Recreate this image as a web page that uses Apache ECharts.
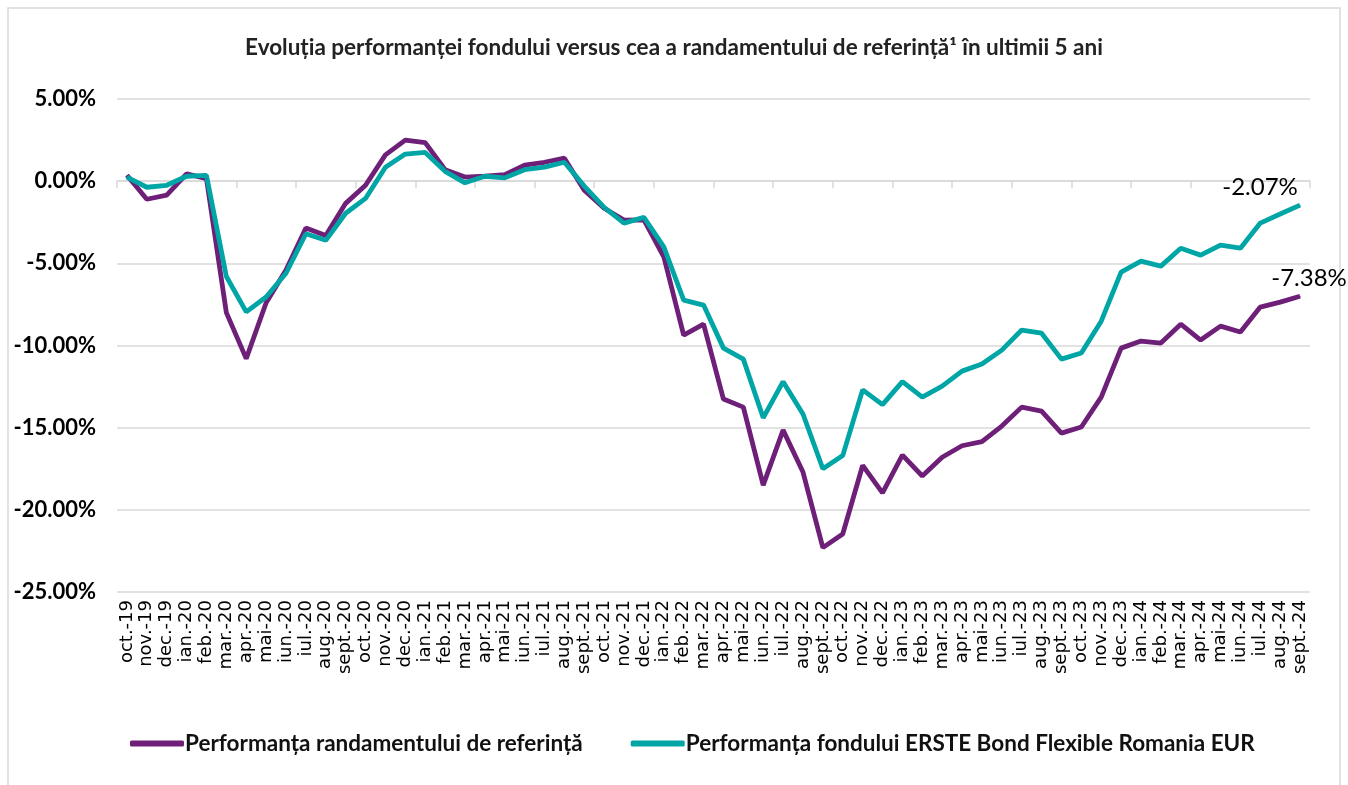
<!DOCTYPE html>
<html><head><meta charset="utf-8">
<script src="https://cdn.jsdelivr.net/npm/echarts@6/dist/echarts.min.js"></script>
<style>html,body{margin:0;padding:0;background:#fff}#c{width:1348px;height:785px}</style>
</head><body><div id="c"></div>
<script>
const categories = ["oct.-19","nov.-19","dec.-19","ian.-20","feb.-20","mar.-20","apr.-20","mai-20","iun.-20","iul.-20","aug.-20","sept.-20","oct.-20","nov.-20","dec.-20","ian.-21","feb.-21","mar.-21","apr.-21","mai-21","iun.-21","iul.-21","aug.-21","sept.-21","oct.-21","nov.-21","dec.-21","ian.-22","feb.-22","mar.-22","apr.-22","mai-22","iun.-22","iul.-22","aug.-22","sept.-22","oct.-22","nov.-22","dec.-22","ian.-23","feb.-23","mar.-23","apr.-23","mai-23","iun.-23","iul.-23","aug.-23","sept.-23","oct.-23","nov.-23","dec.-23","ian.-24","feb.-24","mar.-24","apr.-24","mai-24","iun.-24","iul.-24","aug.-24","sept.-24"];
const referenceValues = [0.36,-1.1,-0.85,0.45,0.15,-8.0,-10.8,-7.4,-5.4,-2.85,-3.3,-1.35,-0.25,1.6,2.5,2.35,0.7,0.25,0.3,0.4,0.97,1.15,1.4,-0.55,-1.65,-2.37,-2.35,-4.6,-9.37,-8.7,-13.26,-13.75,-18.5,-15.15,-17.7,-22.3,-21.47,-17.3,-18.97,-16.67,-17.94,-16.8,-16.1,-15.85,-14.9,-13.75,-13.99,-15.33,-14.96,-13.14,-10.16,-9.73,-9.85,-8.7,-9.67,-8.82,-9.18,-7.66,-7.36,-7.0];
const fundValues = [0.25,-0.37,-0.25,0.3,0.35,-5.8,-7.95,-7.05,-5.6,-3.2,-3.6,-1.95,-1.05,0.85,1.65,1.75,0.6,-0.1,0.3,0.2,0.7,0.85,1.15,-0.3,-1.6,-2.55,-2.2,-4.0,-7.24,-7.54,-10.16,-10.83,-14.4,-12.2,-14.17,-17.5,-16.7,-12.7,-13.6,-12.2,-13.14,-12.47,-11.56,-11.13,-10.28,-9.06,-9.25,-10.83,-10.46,-8.52,-5.53,-4.87,-5.17,-4.08,-4.5,-3.89,-4.08,-2.55,-2.0,-1.46];
const seriesNames = ["Performanța randamentului de referință","Performanța fondului ERSTE Bond Flexible Romania EUR"];
const endLabels = ["-7.38%","-2.07%"];
const titleText = "Evoluția performanței fondului versus cea a randamentului de referință¹ în ultimii 5 ani";

const purple = "#6E1F78", teal = "#00A5A5";
const chart = echarts.init(document.getElementById('c'));
function endLabel(text, offset){
  return {show:true, position:'top', offset:offset, color:'#000', fontFamily:'Lato', fontSize:24,
    formatter:(p)=> p.dataIndex===categories.length-1 ? text : ''};
}
chart.setOption({
  animation:false,
  backgroundColor:'#fff',
  graphic:[{type:'rect', shape:{x:8,y:8,width:1332,height:790}, style:{fill:'none', stroke:'#d9d9d9', lineWidth:1.5}, silent:true}],
  title:{text:titleText, left:'center', top:31, textStyle:{fontFamily:'Lato', fontWeight:'bold', fontSize:22.5, color:'#222'}},
  grid:{left:117, right:38, top:99, bottom:193, containLabel:false},
  legend:{bottom:25, left:125, itemGap:48, itemWidth:54, itemHeight:6, icon:'roundRect',
    textStyle:{fontFamily:'Lato', fontWeight:'bold', fontSize:22.5, color:'#111', padding:[0,0,0,-4]},
    data:seriesNames},
  xAxis:[
    {type:'category', data:categories, position:'bottom', boundaryGap:true,
     axisLine:{show:false, onZero:false}, axisTick:{show:false},
     axisLabel:{rotate:90, interval:0, fontFamily:'DejaVu Sans', fontSize:18, color:'#000', margin:8}},
    {type:'category', data:categories, position:'top', boundaryGap:true,
     axisLine:{show:true, onZero:true, lineStyle:{color:'#d9d9d9', width:1.5}},
     axisTick:{show:true, inside:true, length:7, lineStyle:{color:'#d9d9d9', width:1.5}},
     axisLabel:{show:false}}
  ],
  yAxis:{type:'value', min:-25, max:5, interval:5,
    axisLine:{show:false}, axisTick:{show:false},
    splitLine:{lineStyle:{color:'#d9d9d9', width:1.5}},
    axisLabel:{formatter:(v)=>v.toFixed(2)+'%', fontFamily:'Lato', fontWeight:'bold', fontSize:22, color:'#000', margin:21}},
  series:[
    {name:seriesNames[0], type:'line', xAxisIndex:0, data:referenceValues, symbol:'circle', showSymbol:true, symbolSize:1,
     lineStyle:{color:purple, width:4.8}, itemStyle:{color:purple}, label:endLabel(endLabels[0],[9,0])},
    {name:seriesNames[1], type:'line', xAxisIndex:0, data:fundValues, symbol:'circle', showSymbol:true, symbolSize:1,
     lineStyle:{color:teal, width:4.8}, itemStyle:{color:teal}, label:endLabel(endLabels[1],[-40,0])}
  ]
});
</script></body></html>
